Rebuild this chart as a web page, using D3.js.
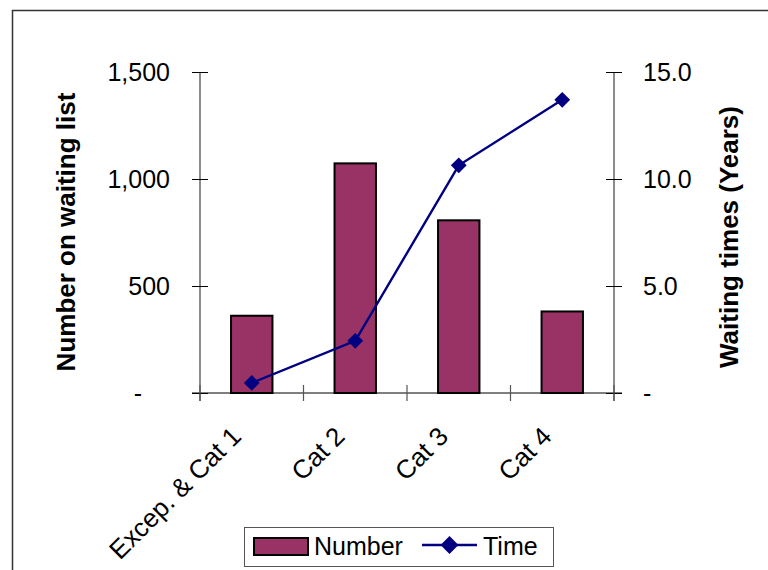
<!DOCTYPE html>
<html>
<head>
<meta charset="utf-8">
<script src="https://cdn.jsdelivr.net/npm/d3@7"></script>
<style>
  body { margin: 0; background: #fff; }
  svg { display: block; font-family: "Liberation Sans", Arial, sans-serif; }
</style>
</head>
<body>
<svg id="chart" width="768" height="570"></svg>
<script>
// chart data
var categories = ['Excep. & Cat 1', 'Cat 2', 'Cat 3', 'Cat 4'];
var numbers = [361, 1073, 807, 381];
var times = [0.47, 2.44, 10.64, 13.7];
var leftTicks = [0, 500, 1000, 1500];
var rightTicks = [0, 5, 10, 15];

var svg = d3.select('#chart');
var plot = { left: 200, right: 614, top: 72, bottom: 393 };

// outer frame
svg.append('rect')
  .attr('x', 12.5).attr('y', 10.5)
  .attr('width', 800).attr('height', 600)
  .attr('fill', 'none').attr('stroke', '#333').attr('stroke-width', 1.5);

var x = d3.scaleBand()
  .domain(categories)
  .range([plot.left, plot.right])
  .paddingInner(0.6).paddingOuter(0.3);

var yLeft = d3.scaleLinear().domain([0, 1500]).range([plot.bottom, plot.top]);
var yRight = d3.scaleLinear().domain([0, 15]).range([plot.bottom, plot.top]);

// left axis
var gl = svg.append('g')
  .attr('transform', 'translate(' + plot.left + ',0)')
  .call(d3.axisLeft(yLeft).tickValues(leftTicks).tickSize(8).tickPadding(22)
    .tickFormat(function (d) { return d === 0 ? '-' : d3.format(',')(d); }));
gl.select('.domain').attr('stroke', '#808080').attr('stroke-width', 1.8).attr('d', 'M0,' + plot.top + 'V' + (plot.bottom + 8));
gl.selectAll('.tick line').attr('x1', -8).attr('x2', 8).attr('stroke', '#000');
gl.selectAll('.tick text')
  .attr('font-size', 25).attr('fill', '#000')
  .attr('dx', function (d) { return d === 0 ? -28 : 0; });

// right axis
var gr = svg.append('g')
  .attr('transform', 'translate(' + plot.right + ',0)')
  .call(d3.axisRight(yRight).tickValues(rightTicks).tickSize(8).tickPadding(21)
    .tickFormat(function (d) { return d === 0 ? '-' : d3.format('.1f')(d); }));
gr.select('.domain').attr('stroke', '#808080').attr('stroke-width', 1.8).attr('d', 'M0,' + plot.top + 'V' + (plot.bottom + 8));
gr.selectAll('.tick line').attr('x1', -8).attr('x2', 8).attr('stroke', '#000');
gr.selectAll('.tick text').attr('font-size', 25).attr('fill', '#000');

// bars
svg.append('g').selectAll('rect')
  .data(numbers)
  .enter().append('rect')
  .attr('x', function (d, i) { return x(categories[i]); })
  .attr('y', function (d) { return yLeft(d); })
  .attr('width', x.bandwidth())
  .attr('height', function (d) { return yLeft(0) - yLeft(d); })
  .attr('fill', '#993366')
  .attr('stroke', '#000')
  .attr('stroke-width', 2);

// category axis
var step = x.step();
var gx = svg.append('g');
gx.append('line')
  .attr('x1', plot.left - 8).attr('x2', plot.right + 8)
  .attr('y1', plot.bottom).attr('y2', plot.bottom)
  .attr('stroke', '#000').attr('stroke-width', 1.2);
gx.selectAll('.ctick')
  .data(d3.range(categories.length + 1))
  .enter().append('line')
  .attr('class', 'ctick')
  .attr('x1', function (i) { return plot.left + i * step; })
  .attr('x2', function (i) { return plot.left + i * step; })
  .attr('y1', plot.bottom - 8).attr('y2', plot.bottom + 8)
  .attr('stroke', '#555').attr('stroke-width', 1.2);
gx.selectAll('text')
  .data(categories)
  .enter().append('text')
  .attr('transform', function (d) {
    var cx = x(d) + x.bandwidth() / 2;
    return 'translate(' + (cx - 9) + ',438) rotate(-45)';
  })
  .attr('text-anchor', 'end')
  .attr('font-size', 26)
  .text(function (d) { return d; });

// time line
var cxOf = function (d, i) { return x(categories[i]) + x.bandwidth() / 2; };
var line = d3.line()
  .x(cxOf)
  .y(function (d) { return yRight(d); });
svg.append('path')
  .datum(times)
  .attr('d', line)
  .attr('fill', 'none')
  .attr('stroke', '#000080')
  .attr('stroke-width', 2.4);
svg.append('g').selectAll('path')
  .data(times)
  .enter().append('path')
  .attr('d', d3.symbol(d3.symbolSquare, 125))
  .attr('transform', function (d, i) { return 'translate(' + cxOf(d, i) + ',' + yRight(d) + ') rotate(45)'; })
  .attr('fill', '#000080');

// axis titles
svg.append('text')
  .attr('transform', 'translate(75,232) rotate(-90)')
  .attr('text-anchor', 'middle')
  .attr('font-size', 26).attr('font-weight', 'bold')
  .text('Number on waiting list');
svg.append('text')
  .attr('transform', 'translate(738,237) rotate(-90)')
  .attr('text-anchor', 'middle')
  .attr('font-size', 26).attr('font-weight', 'bold')
  .text('Waiting times (Years)');

// legend
var lg = svg.append('g');
lg.append('rect')
  .attr('x', 244.5).attr('y', 527.5).attr('width', 309).attr('height', 39)
  .attr('fill', '#fff').attr('stroke', '#555').attr('stroke-width', 1);
lg.append('rect')
  .attr('x', 254).attr('y', 538).attr('width', 54).attr('height', 17)
  .attr('fill', '#993366').attr('stroke', '#000').attr('stroke-width', 2);
lg.append('text').attr('x', 314).attr('y', 555).attr('font-size', 25).text('Number');
lg.append('line')
  .attr('x1', 422).attr('x2', 477).attr('y1', 545).attr('y2', 545)
  .attr('stroke', '#000080').attr('stroke-width', 2.4);
lg.append('path')
  .attr('d', d3.symbol(d3.symbolSquare, 160))
  .attr('transform', 'translate(449.5,545) rotate(45)')
  .attr('fill', '#000080');
lg.append('text').attr('x', 483).attr('y', 555).attr('font-size', 25).text('Time');
</script>
</body>
</html>
